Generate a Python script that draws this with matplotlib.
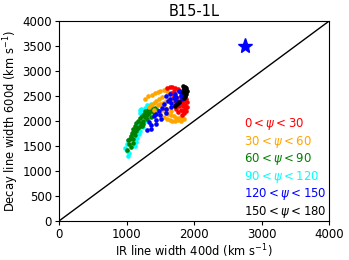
import matplotlib
matplotlib.use("Agg")
import matplotlib.pyplot as plt

red_x = [1600,1640,1680,1720,1760,1700,1780,1820,1800,1840,1860,1880,1850,1820,1870,1890,1840,1860,1800,1880,1850,1820,1760,1740,1780,1720,1800,1860,1880,1700,1660,1750,1830,1890,1790]
red_y = [2660,2680,2690,2660,2640,2600,2600,2560,2500,2520,2480,2440,2400,2360,2330,2280,2300,2240,2220,2200,2160,2120,2180,2250,2300,2400,2420,2580,2620,2500,2560,2460,2200,2380,2340]

orange_x = [1280,1320,1380,1420,1460,1500,1560,1600,1620,1520,1480,1440,1400,1360,1330,1460,1500,1540,1580,1620,1660,1700,1540,1580,1620,1660,1700,1740,1780,1820,1850,1500,1460,1560,1600,1640,1680,1720,1760,1800,1400,1560,1660,1600]
orange_y = [2440,2500,2520,2560,2580,2600,2620,2600,2560,2480,2440,2400,2360,2330,2280,2320,2340,2360,2400,2420,2440,2480,2220,2180,2140,2120,2100,2060,2060,2080,2040,2140,2180,2080,2040,2020,2000,2000,2020,2000,2220,2280,2200,2240]

green_x = [1010,1060,1030,1100,1020,1090,1060,1120,1080,1140,1100,1160,1130,1200,1140,1220,1170,1250,1200,1270,1230,1310,1260,1340,1300,1380,1330,1420,1370,1300,1240,1280,1360,1400,1170,1110,1050,1230,1450,1350]
green_y = [1420,1480,1540,1560,1620,1640,1700,1720,1760,1800,1840,1860,1900,1900,1960,1960,2000,2000,2060,2080,2100,2120,2140,2160,2200,2200,2240,2260,2280,2040,1940,2200,2080,2160,1860,1780,1640,1900,2220,2260]

cyan_x = [1020,1040,1000,980,1120,1010,1140,1040,1160,1070,1180,1100,1200,1120,1240,1150,1200,1240,1220,1270,1320,1300,1360,1200,1280]
cyan_y = [1300,1360,1400,1460,1500,1540,1580,1640,1660,1700,1740,1780,1800,1860,1880,1960,2160,2220,2240,2260,2300,2320,2340,2220,2000]

blue_x = [1300,1360,1360,1440,1430,1510,1500,1580,1580,1660,1660,1740,1740,1800,1830,1850,1770,1720,1700,1640,1620,1560,1520,1480,1440,1400,1340,1720,1780,1810,1640,1580,1820]
blue_y = [1820,1840,1920,1940,2020,2040,2120,2160,2240,2280,2360,2400,2480,2560,2620,2660,2600,2540,2460,2440,2400,2340,2260,2200,2140,2100,1980,2320,2380,2500,2540,2500,2440]

black_x = [1840,1860,1880,1850,1870,1890,1860,1880,1840,1870,1750,1720,1780,1850]
black_y = [2700,2680,2660,2640,2620,2600,2560,2540,2580,2500,2340,2300,2380,2460]

star_x = [2750]
star_y = [3500]

labels = [r"$0<\psi<30$", r"$30<\psi<60$", r"$60<\psi<90$",
          r"$90<\psi<120$", r"$120<\psi<150$", r"$150<\psi<180$"]
colors = ["red", "orange", "green", "cyan", "blue", "black"]

fig = plt.figure(figsize=(3.49, 2.60), dpi=100)
ax = fig.add_axes([0.169, 0.15, 0.774, 0.769])

ax.plot([0, 4000], [0, 4000], color="black", lw=1)
series = {"red": (red_x, red_y), "orange": (orange_x, orange_y),
          "green": (green_x, green_y), "cyan": (cyan_x, cyan_y),
          "blue": (blue_x, blue_y), "black": (black_x, black_y)}
for c in ["cyan", "green", "orange", "red", "blue", "black"]:
    xs, ys = series[c]
    ax.scatter(xs, ys, s=11, color=c, linewidths=0)
ax.plot(star_x, star_y, marker="*", color="blue", markersize=11, linestyle="none")

for i, (lab, c) in enumerate(zip(labels, colors)):
    ax.text(0.685, 0.485 - i * 0.0875, lab, color=c, fontsize=8.5,
            transform=ax.transAxes, ha="left", va="center")

ax.set_xlim(0, 4000)
ax.set_ylim(0, 4000)
ax.set_xticks([0, 1000, 2000, 3000, 4000])
ax.set_yticks(range(0, 4001, 500))
ax.tick_params(labelsize=8.5, length=3, pad=2)
ax.set_xlabel(r"IR line width 400d (km s$^{-1}$)", fontsize=8.3, labelpad=1)
ax.set_ylabel(r"Decay line width 600d (km s$^{-1}$)", fontsize=8.3, labelpad=1)
ax.set_title("B15-1L", fontsize=10.5, pad=4)

fig.savefig("out.png", dpi=100)
